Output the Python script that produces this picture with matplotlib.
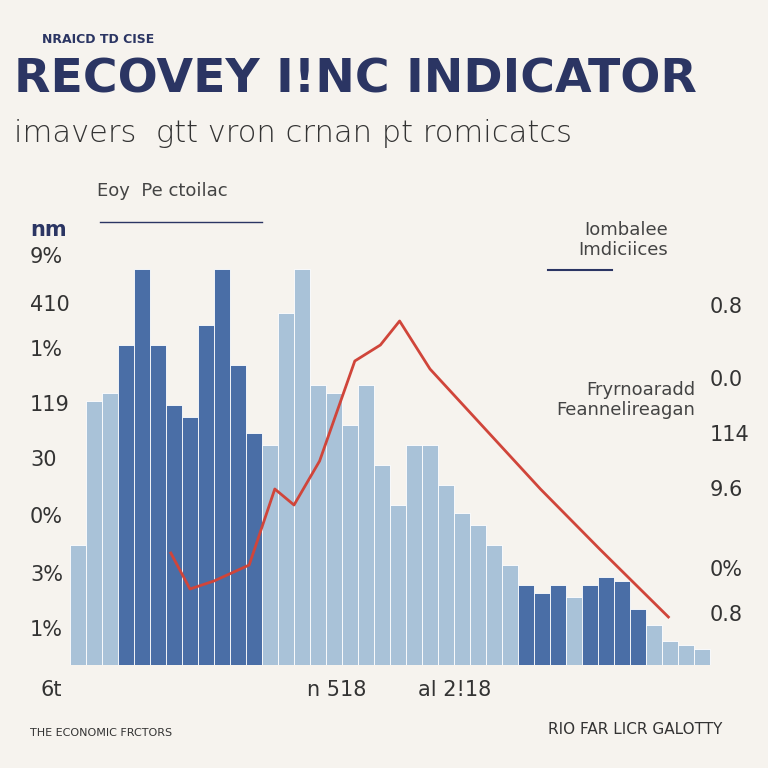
import matplotlib
matplotlib.use("Agg")
import matplotlib.pyplot as plt

BG = "#f6f3ee"
NAVY = "#2b3563"
LIGHT = "#a9c2d8"
DARK = "#4a6ea6"
RED = "#d0453a"

bar_vals = [30, 66, 68, 80, 99, 80, 65, 62, 85, 99, 75, 58, 55, 88, 99, 70, 68, 60, 70, 50,
            40, 55, 55, 45, 38, 35, 30, 25, 20, 18, 20, 17, 20, 22, 21, 14, 10, 6, 5, 4]
bar_dark = [0, 0, 0, 1, 1, 1, 1, 1, 1, 1, 1, 1, 0, 0, 0, 0, 0, 0, 0, 0,
            0, 0, 0, 0, 0, 0, 0, 0, 1, 1, 1, 0, 1, 1, 1, 1, 0, 0, 0, 0]
line_x = [6.3, 7.5, 9.0, 11.2, 12.8, 14.0, 15.6, 17.8, 19.4, 20.6, 22.5, 29.4, 33.1, 37.4]
line_y = [28, 19, 21, 25, 44, 40, 51, 76, 80, 86, 74, 44, 29, 12]
left_ticks = ["1%", "3%", "0%", "30", "119", "1%", "410", "9%"]
right_ticks = ["0.8", "0%", "9.6", "114", "0.0", "0.8"]

fig = plt.figure(figsize=(7.68, 7.68), dpi=100, facecolor=BG)
ax = fig.add_axes([70/768, 103/768, 648/768, 400/768], facecolor=BG)
colors = [DARK if d else LIGHT for d in bar_dark]
ax.bar(range(len(bar_vals)), bar_vals, width=1.0, color=colors, edgecolor="white", linewidth=0.6, align="edge")
ax.plot(line_x, line_y, color=RED, lw=2)
ax.set_xlim(0, 40.5)
ax.set_ylim(0, 100)
for s in ax.spines.values():
    s.set_visible(False)
ax.set_xticks([])
ax.set_yticks([])

fig.text(42/768, 1 - 43/768, "NRAICD TD CISE", fontsize=9, color=NAVY, fontweight="bold")
fig.text(14/768, 1 - 80/768, "RECOVEY I!NC INDICATOR", fontsize=34, color=NAVY, fontweight="bold", va="center")
fig.text(14/768, 1 - 133/768, "imavers  gtt vron crnan pt romicatcs", fontsize=22, color="#333333",
         va="center", fontweight="light")
fig.text(97/768, 1 - 191/768, "Eoy  Pe ctoilac", fontsize=13, color="#444444", va="center")
fig.add_artist(plt.Line2D([100/768, 262/768], [1 - 222/768] * 2, color=NAVY, lw=1))
fig.text(30/768, 1 - 230/768, "nm", fontsize=15, color=NAVY, fontweight="bold", va="center")
fig.text(668/768, 1 - 240/768, "Iombalee\nImdiciices", fontsize=13, color="#444444", ha="right", va="center")
fig.add_artist(plt.Line2D([548/768, 612/768], [1 - 270/768] * 2, color=NAVY, lw=1.5))
fig.text(695/768, 1 - 400/768, "Fryrnoaradd\nFeannelireagan", fontsize=13, color="#444444", ha="right", va="center")

left_y = [630, 575, 517, 460, 405, 350, 305, 257]
for t, y in zip(left_ticks, left_y):
    fig.text(30/768, 1 - y/768, t, fontsize=15, color="#333333", va="center")
right_y = [615, 570, 490, 435, 380, 307]
for t, y in zip(right_ticks, right_y):
    fig.text(710/768, 1 - y/768, t, fontsize=15, color="#333333", va="center")

fig.text(40/768, 1 - 690/768, "6t", fontsize=15, color="#333333", va="center")
fig.text(307/768, 1 - 690/768, "n 518", fontsize=15, color="#333333", va="center")
fig.text(418/768, 1 - 690/768, "al 2!18", fontsize=15, color="#333333", va="center")
fig.text(30/768, 1 - 733/768, "THE ECONOMIC FRCTORS", fontsize=8, color="#333333", va="center")
fig.text(548/768, 1 - 730/768, "RIO FAR LICR GALOTTY", fontsize=11, color="#333333", va="center")

fig.savefig("out.png", dpi=100, facecolor=BG)
